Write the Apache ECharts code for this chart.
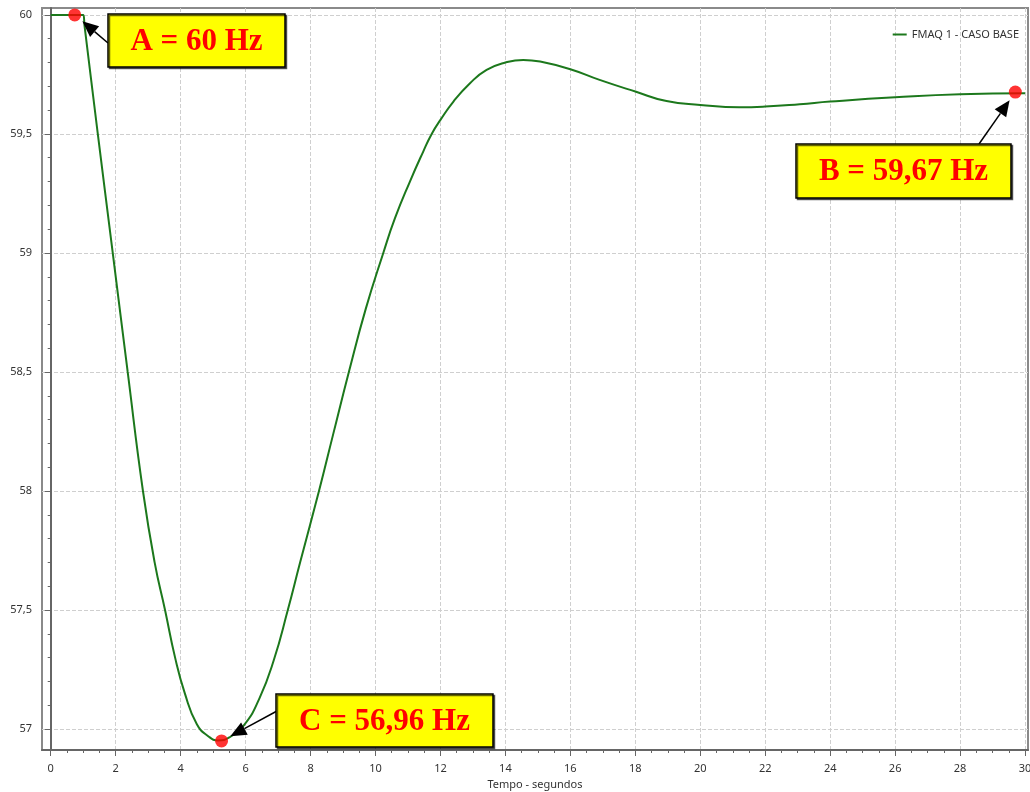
<!DOCTYPE html>
<html><head><meta charset="utf-8">
<script src="https://cdn.jsdelivr.net/npm/echarts@6/dist/echarts.min.js"></script>
<style>html,body{margin:0;padding:0;background:#fff}#c{width:1030px;height:792px}</style>
</head><body><div id="c"></div>
<script>
const seriesName = 'FMAQ 1 - CASO BASE';
const xAxisName = 'Tempo - segundos';
// time (s) and frequency (Hz)
const time = [0, 0.5, 1.0, 1.04, 1.45, 1.91, 2.37, 2.84, 3.2, 3.52, 3.83, 4.13, 4.5, 4.85, 5.15, 5.5, 5.97, 6.43, 6.87, 7.3, 7.67, 8.26, 8.7, 9.18, 9.7, 10.24, 10.6, 11.06, 11.47, 11.73, 12.0, 12.4, 12.91, 13.42, 14.0, 14.55, 15.07, 16, 16.9, 18, 18.96, 20, 21.2, 22, 23.06, 24, 26, 28, 30];
const freq = [60, 60, 60, 59.956, 59.5, 59.0, 58.5, 58.0, 57.7, 57.5, 57.3, 57.15, 57.02, 56.97, 56.952, 56.965, 57.02, 57.13, 57.29, 57.5, 57.695, 58.0, 58.24, 58.5, 58.765, 59.0, 59.146, 59.30, 59.426, 59.5, 59.559, 59.636, 59.713, 59.769, 59.80, 59.811, 59.804, 59.772, 59.727, 59.678, 59.638, 59.622, 59.612, 59.615, 59.625, 59.636, 59.654, 59.667, 59.671];
const xTicks = [0, 2, 4, 6, 8, 10, 12, 14, 16, 18, 20, 22, 24, 26, 28, 30];
const yTicks = [57, 57.5, 58, 58.5, 59, 59.5, 60];
const markTimes = [0.74, 29.7, 5.26];
const markFreqs = [60, 59.676, 56.95];
const markLabels = ['A = 60 Hz', 'B = 59,67 Hz', 'C = 56,96 Hz'];

const xMinor = []; for (let v = 0; v <= 30.001; v += 0.5) xMinor.push(+v.toFixed(2));
const yMinor = []; for (let v = 57; v <= 60.001; v += 0.1) yMinor.push(+v.toFixed(2));

const FONT = '"Noto Sans", "Open Sans", sans-serif';
const chart = echarts.init(document.getElementById('c'), null, {renderer: 'canvas'});
const xMin = -0.268, xMax = 30.09, yMin = 56.912, yMax = 60.029;
const axisCol = '#666';

chart.setOption({
  animation: false,
  backgroundColor: '#fff',
  grid: {left: 42, right: 2, top: 8, bottom: 42, containLabel: false, outerBoundsMode: 'none',
    show: true, borderColor: '#8a8a8a', borderWidth: 2, backgroundColor: 'transparent'},
  legend: {
    data: [seriesName], right: 6, top: 24, icon: 'rect', itemWidth: 14, itemHeight: 2,
    textStyle: {fontFamily: FONT, fontSize: 11, color: '#333'}
  },
  xAxis: [{
    type: 'value', min: xMin, max: xMax, position: 'bottom',
    name: xAxisName, nameLocation: 'middle', nameGap: 28,
    nameTextStyle: {fontFamily: FONT, fontSize: 11, color: '#333'},
    axisLine: {lineStyle: {color: axisCol, width: 2}},
    axisTick: {customValues: xTicks, length: 6, lineStyle: {color: axisCol}},
    axisLabel: {customValues: xTicks, fontFamily: FONT, fontSize: 11, color: '#333', margin: 13},
    splitLine: {show: true, lineStyle: {type: [4, 2], color: '#cfcfcf', width: 1}}
  }, {
    type: 'value', min: xMin, max: xMax, position: 'bottom', offset: 0,
    axisLine: {show: false},
    axisTick: {customValues: xMinor, length: 3, lineStyle: {color: axisCol}},
    axisLabel: {show: false}, splitLine: {show: false}
  }],
  yAxis: [{
    type: 'value', min: yMin, max: yMax, position: 'left',
    axisLine: {show: true, lineStyle: {color: axisCol, width: 2}},
    axisTick: {show: true, customValues: yTicks, length: 6, lineStyle: {color: axisCol}},
    axisLabel: {customValues: yTicks, fontFamily: FONT, fontSize: 11, color: '#333', margin: 10,
      formatter: v => String(v).replace('.', ',')},
    splitLine: {show: true, lineStyle: {type: [4, 2], color: '#cfcfcf', width: 1}}
  }, {
    type: 'value', min: yMin, max: yMax, position: 'left', offset: 0,
    axisLine: {show: false},
    axisTick: {show: true, customValues: yMinor, length: 3, lineStyle: {color: axisCol}},
    axisLabel: {show: false}, splitLine: {show: false}
  }],
  series: [{
    name: seriesName, type: 'line', xAxisIndex: 0, yAxisIndex: 0,
    data: time.map((t, i) => [t, freq[i]]),
    showSymbol: false, smooth: 0.5,
    lineStyle: {color: '#1c781c', width: 2}, itemStyle: {color: '#1c781c'}
  }, {
    name: 'marks', type: 'scatter', xAxisIndex: 0, yAxisIndex: 0, z: 5, silent: true,
    data: markTimes.map((t, i) => [t, markFreqs[i]]),
    symbolSize: 13, itemStyle: {color: '#ff0000'}
  }]
});

// annotation boxes (layout) and arrows pointing to the marked data points
const boxes = [
  {x: 108, y: 14, w: 177, h: 53, tail: [108, 43]},
  {x: 796, y: 144, w: 215, h: 54, tail: [979, 144]},
  {x: 276, y: 694, w: 217, h: 53, tail: [277, 711]}
];
const gfx = [];
boxes.forEach((b, i) => {
  const p = chart.convertToPixel({seriesIndex: 1}, [markTimes[i], markFreqs[i]]);
  const dx = b.tail[0] - p[0], dy = b.tail[1] - p[1];
  const L = Math.hypot(dx, dy), ux = dx / L, uy = dy / L;
  const tip = [p[0] + ux * 10, p[1] + uy * 10];
  const hl = 16, hw = 7;
  const base = [tip[0] + ux * hl, tip[1] + uy * hl];
  const p1 = [base[0] - uy * hw, base[1] + ux * hw], p2 = [base[0] + uy * hw, base[1] - ux * hw];
  gfx.push({type: 'line', z: 10, shape: {x1: b.tail[0], y1: b.tail[1], x2: base[0], y2: base[1]}, style: {stroke: '#000', lineWidth: 1.5}});
  gfx.push({type: 'polygon', z: 10, shape: {points: [tip, p1, p2]}, style: {fill: '#000'}});
  gfx.push({type: 'rect', z: 11, shape: {x: b.x, y: b.y, width: b.w, height: b.h},
    style: {fill: '#ffff00', stroke: '#000', lineWidth: 1.5, shadowColor: 'rgba(0,0,0,0.6)', shadowOffsetX: 1.5, shadowOffsetY: 1.5, shadowBlur: 0}});
  gfx.push({type: 'text', z: 12, x: b.x + b.w / 2, y: b.y + b.h / 2 + 1,
    style: {text: markLabels[i], fill: '#ff0000', font: 'bold 31px "Liberation Serif", "Times New Roman", serif', align: 'center', verticalAlign: 'middle'}});
});
chart.setOption({graphic: gfx});
</script>
</body></html>
